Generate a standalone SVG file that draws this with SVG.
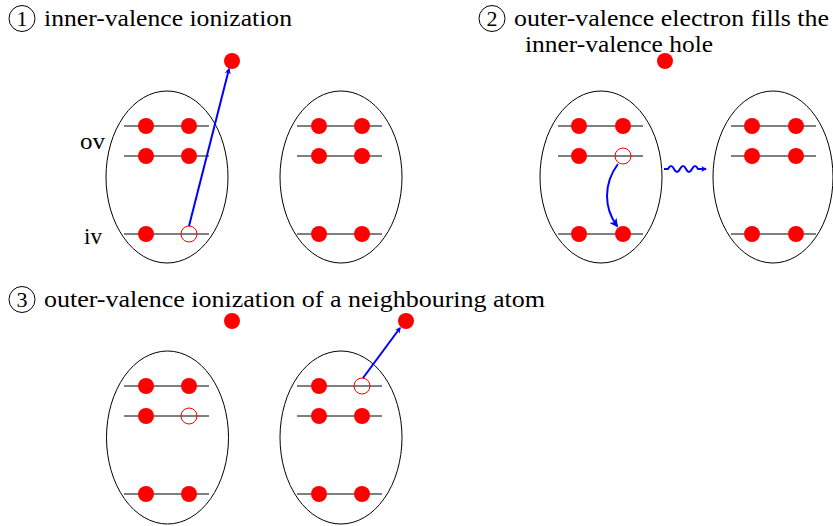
<svg xmlns="http://www.w3.org/2000/svg" width="833" height="526" viewBox="0 0 833 526">
<style>
.atom{fill:none;stroke:#000;stroke-width:1}
.lvl{stroke:#000;stroke-width:1}
.e{fill:#f00}
.h{fill:none;stroke:#f00;stroke-width:1}
.num{fill:none;stroke:#000;stroke-width:1}
.arr{fill:none;stroke:#00f;stroke-width:2}
</style>
<defs>
<marker id="ah" viewBox="0 0 10 10" refX="8" refY="5" markerWidth="6" markerHeight="6" orient="auto" markerUnits="userSpaceOnUse">
<path d="M0,0 L10,5 L0,10 L3,5 Z" fill="#00f"/>
</marker>
<marker id="ah2" viewBox="0 0 10 10" refX="8" refY="5" markerWidth="9" markerHeight="9" orient="auto" markerUnits="userSpaceOnUse">
<path d="M0,0 L10,5 L0,10 L3,5 Z" fill="#00f"/>
</marker>
</defs>

<g id="title1">
<circle class="num" cx="22" cy="18.5" r="13"/>
<text x="22" y="26" text-anchor="middle" font-family="Liberation Serif" font-size="22" fill="#000">1</text>
<text x="44" y="26" font-family="Liberation Serif" font-size="24" fill="#000" textLength="248" lengthAdjust="spacingAndGlyphs">inner-valence ionization</text>
</g>
<g id="title2">
<circle class="num" cx="492" cy="18.5" r="13"/>
<text x="492" y="26" text-anchor="middle" font-family="Liberation Serif" font-size="22" fill="#000">2</text>
<text x="514" y="26" font-family="Liberation Serif" font-size="24" fill="#000" textLength="315" lengthAdjust="spacingAndGlyphs">outer-valence electron fills the</text>
<text x="525" y="52" font-family="Liberation Serif" font-size="24" fill="#000" textLength="188" lengthAdjust="spacingAndGlyphs">inner-valence hole</text>
</g>
<g id="title3">
<circle class="num" cx="22" cy="299.5" r="13"/>
<text x="22" y="307" text-anchor="middle" font-family="Liberation Serif" font-size="22" fill="#000">3</text>
<text x="44" y="307" font-family="Liberation Serif" font-size="24" fill="#000" textLength="501" lengthAdjust="spacingAndGlyphs">outer-valence ionization of a neighbouring atom</text>
</g>
<g id="labels">
<text x="80" y="149" font-family="Liberation Serif" font-size="24" fill="#000" textLength="25" lengthAdjust="spacingAndGlyphs">ov</text>
<text x="84" y="244" font-family="Liberation Serif" font-size="24" fill="#000" textLength="18" lengthAdjust="spacingAndGlyphs">iv</text>
</g>

<!-- Section 1 -->
<g id="atom1a">
<ellipse class="atom" cx="167" cy="177" rx="61" ry="86"/>
<line class="lvl" x1="124" y1="126" x2="209" y2="126"/>
<line class="lvl" x1="124" y1="156" x2="209" y2="156"/>
<line class="lvl" x1="124" y1="234" x2="209" y2="234"/>
<circle class="e" cx="146" cy="126" r="8"/><circle class="e" cx="189" cy="126" r="8"/>
<circle class="e" cx="146" cy="156" r="8"/><circle class="e" cx="189" cy="156" r="8"/>
<circle class="e" cx="146" cy="234" r="8"/><circle class="h" cx="189" cy="234" r="8"/>
</g>
<g id="free1"><circle class="e" cx="232" cy="61" r="8"/></g>
<g id="atom1b">
<ellipse class="atom" cx="341" cy="177" rx="61" ry="86"/>
<line class="lvl" x1="297" y1="126" x2="382" y2="126"/>
<line class="lvl" x1="297" y1="156" x2="382" y2="156"/>
<line class="lvl" x1="297" y1="234" x2="382" y2="234"/>
<circle class="e" cx="319" cy="126" r="8"/><circle class="e" cx="362" cy="126" r="8"/>
<circle class="e" cx="319" cy="156" r="8"/><circle class="e" cx="362" cy="156" r="8"/>
<circle class="e" cx="319" cy="234" r="8"/><circle class="e" cx="362" cy="234" r="8"/>
</g>

<!-- Section 2 -->
<g id="free2"><circle class="e" cx="665" cy="61" r="8"/></g>
<g id="atom2a">
<ellipse class="atom" cx="601" cy="177" rx="61" ry="86"/>
<line class="lvl" x1="558" y1="126" x2="643" y2="126"/>
<line class="lvl" x1="558" y1="156" x2="643" y2="156"/>
<line class="lvl" x1="558" y1="234" x2="643" y2="234"/>
<circle class="e" cx="579" cy="126" r="8"/><circle class="e" cx="623" cy="126" r="8"/>
<circle class="e" cx="579" cy="156" r="8"/><circle class="h" cx="623" cy="156" r="8"/>
<circle class="e" cx="579" cy="234" r="8"/><circle class="e" cx="623" cy="234" r="8"/>
</g>
<g id="atom2b">
<ellipse class="atom" cx="773" cy="177" rx="60" ry="86"/>
<line class="lvl" x1="731" y1="126" x2="816" y2="126"/>
<line class="lvl" x1="731" y1="156" x2="816" y2="156"/>
<line class="lvl" x1="731" y1="234" x2="816" y2="234"/>
<circle class="e" cx="752" cy="126" r="8"/><circle class="e" cx="796" cy="126" r="8"/>
<circle class="e" cx="752" cy="156" r="8"/><circle class="e" cx="796" cy="156" r="8"/>
<circle class="e" cx="752" cy="234" r="8"/><circle class="e" cx="796" cy="234" r="8"/>
</g>

<!-- Section 3 -->
<g id="free3a"><circle class="e" cx="232" cy="321" r="8"/></g>
<g id="free3b"><circle class="e" cx="406" cy="321" r="8"/></g>
<g id="atom3a">
<ellipse class="atom" cx="167.5" cy="437.5" rx="61" ry="86.5"/>
<line class="lvl" x1="124" y1="386" x2="209" y2="386"/>
<line class="lvl" x1="124" y1="416" x2="209" y2="416"/>
<line class="lvl" x1="124" y1="494" x2="209" y2="494"/>
<circle class="e" cx="146" cy="386" r="8"/><circle class="e" cx="189" cy="386" r="8"/>
<circle class="e" cx="146" cy="416" r="8"/><circle class="h" cx="189" cy="416" r="8"/>
<circle class="e" cx="146" cy="494" r="8"/><circle class="e" cx="189" cy="494" r="8"/>
</g>
<g id="atom3b">
<ellipse class="atom" cx="341" cy="437.5" rx="61" ry="86.5"/>
<line class="lvl" x1="297" y1="386" x2="382" y2="386"/>
<line class="lvl" x1="297" y1="416" x2="382" y2="416"/>
<line class="lvl" x1="297" y1="494" x2="382" y2="494"/>
<circle class="e" cx="319" cy="386" r="8"/><circle class="h" cx="362" cy="386" r="8"/>
<circle class="e" cx="319" cy="416" r="8"/><circle class="e" cx="362" cy="416" r="8"/>
<circle class="e" cx="319" cy="494" r="8"/><circle class="e" cx="362" cy="494" r="8"/>
</g>

<g id="connectors">
<line class="arr" x1="189" y1="226" x2="229" y2="69" marker-end="url(#ah)"/>
<path class="arr" d="M618,164 C603,184 604,208 617,226" stroke-width="3" marker-end="url(#ah2)"/>
<path class="arr" d="M664,169 l4,0 q3,-6 6,0 q3,6 6,0 q3,-6 6,0 q3,6 6,0 q3,-6 6,0 l8,0" stroke-width="1.5" marker-end="url(#ah)"/>
<line class="arr" x1="363" y1="378" x2="400" y2="328" marker-end="url(#ah)"/>
</g>
</svg>
